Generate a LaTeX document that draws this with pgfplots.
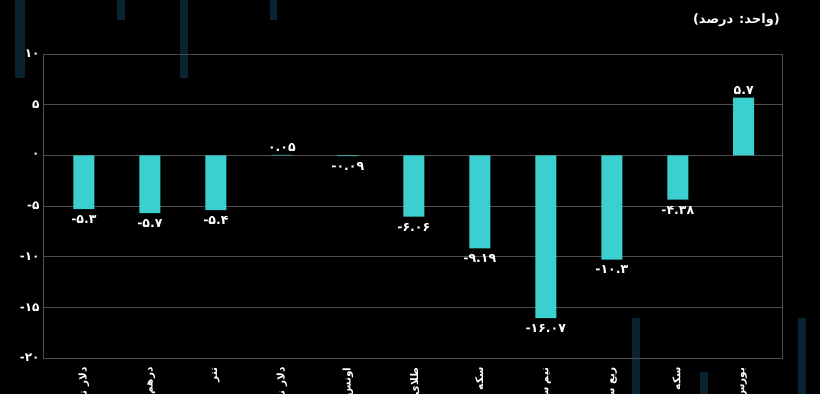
\documentclass[border=0pt]{standalone}
\usepackage{pgfplots}
\pgfplotsset{compat=1.18}
\usepackage{pgfplotstable}
\usepackage{fontspec}
\setmainfont{DejaVu Sans}
\newfontfamily\arabicfont[Script=Arabic]{DejaVu Sans}
\newfontfamily\numfont{DejaVu Sans}
\TeXXeTstate=1
\definecolor{barc}{RGB}{60,207,207}
\definecolor{gridc}{RGB}{78,78,78}
\definecolor{streak}{RGB}{9,36,48}

% negative changes
\pgfplotstableread{
x y lab
0 -5.3 -۵.۳
1 -5.7 -۵.۷
2 -5.4 -۵.۴
4 -0.09 -۰.۰۹
5 -6.06 -۶.۰۶
6 -9.19 -۹.۱۹
7 -16.07 -۱۶.۰۷
8 -10.3 -۱۰.۳
9 -4.38 -۴.۳۸
}\negtable
% positive changes
\pgfplotstableread{
x y lab
3 0.05 ۰.۰۵
10 5.7 ۵.۷
}\postable

\begin{document}
\begin{tikzpicture}
\useasboundingbox (-43pt,-36pt) rectangle (777pt,358pt);
\clip (-43pt,-36pt) rectangle (777pt,358pt);
\fill[black] (-43pt,-36pt) rectangle (777pt,358pt);
\fill[streak] (-28pt,280pt) rectangle (-18pt,358pt);
\fill[streak] (74pt,338pt) rectangle (82pt,358pt);
\fill[streak] (137pt,280pt) rectangle (145pt,358pt);
\fill[streak] (227pt,338pt) rectangle (234pt,358pt);
\fill[streak] (589pt,-36pt) rectangle (597pt,40pt);
\fill[streak] (755pt,-36pt) rectangle (763pt,40pt);
\fill[streak] (657pt,-36pt) rectangle (665pt,-14pt);
\node[anchor=east, text=white, font=\arabicfont\bfseries\fontsize{13}{15}\selectfont, inner sep=0pt] at (737pt,338pt) {\beginR(واحد: درصد)\endR};
\begin{axis}[
  scale only axis, width=739pt, height=304pt,
  xmin=-0.62, xmax=10.58, ymin=-20, ymax=10,
  ybar, bar width=21pt, bar shift=0pt,
  axis line style={gridc, line width=0.8pt},
  ymajorgrids, grid style={gridc, line width=0.8pt},
  major tick length=0pt,
  xtick={0,1,2,3,4,5,6,7,8,9,10},
  xticklabels={
    {\beginR دلار توافقی\endR},
    {\beginR درهم امارات\endR},
    {\beginR تتر\endR},
    {\beginR دلار نیمایی\endR},
    {\beginR اونس طلا\endR},
    {\beginR طلای آب‌شده\endR},
    {\beginR سکه امامی\endR},
    {\beginR نیم سکه\endR},
    {\beginR ربع سکه\endR},
    {\beginR سکه امام\endR},
    {\beginR بورس\endR}},
  xticklabel style={rotate=90, anchor=east, text=white, font=\arabicfont\bfseries\fontsize{10.5}{12}\selectfont},
  xticklabel shift=6pt,
  ytick={-20,-15,-10,-5,0,5,10},
  yticklabels={-۲۰,-۱۵,-۱۰,-۵,۰,۵,۱۰},
  yticklabel style={text=white, font=\numfont\bfseries\fontsize{12}{14}\selectfont},
  point meta=explicit symbolic,
]
\addplot[fill=barc, draw=none,
  nodes near coords={\pgfplotspointmeta},
  nodes near coords style={anchor=north, yshift=-3pt, text=white, font=\numfont\bfseries\fontsize{12.5}{14}\selectfont, inner sep=3pt}]
  table[x=x, y=y, meta=lab] {\negtable};
\addplot[fill=barc, draw=none,
  nodes near coords={\pgfplotspointmeta},
  nodes near coords style={anchor=south, text=white, font=\numfont\bfseries\fontsize{12.5}{14}\selectfont, inner sep=3pt}]
  table[x=x, y=y, meta=lab] {\postable};
\end{axis}
\end{tikzpicture}
\end{document}
